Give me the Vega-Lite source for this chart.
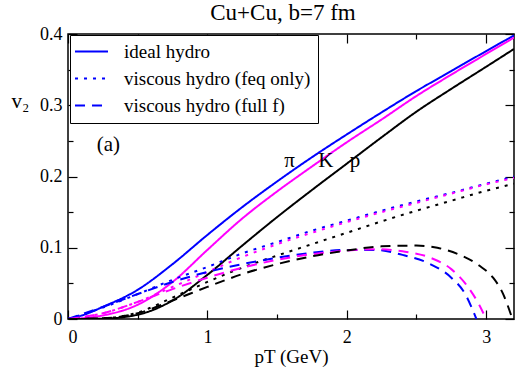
{
  "$schema": "https://vega.github.io/schema/vega-lite/v6.json",
  "width": 446,
  "height": 285,
  "autosize": {"type": "none"},
  "padding": {"left": 68, "top": 34, "right": 14, "bottom": 60},
  "background": "white",
  "title": {"text": "Cu+Cu, b=7 fm", "font": "Liberation Serif", "fontSize": 23, "fontWeight": "normal", "color": "black", "baseline": "top", "offset": 0, "dx": -8},
  "config": {
    "view": {"stroke": "black", "strokeWidth": 1.5},
    "axis": {"labelFont": "Liberation Serif", "labelFontSize": 18, "labelColor": "black", "titleFont": "Liberation Serif", "titleFontSize": 19, "titleFontWeight": "normal", "titleColor": "black", "tickColor": "black", "tickWidth": 1.2, "domain": false, "grid": false}
  },
  "data": {"values": [
    {"particle": "π", "model": "ideal hydro", "pT": 0, "v2": 0},
    {"particle": "π", "model": "ideal hydro", "pT": 0.1, "v2": 0.005},
    {"particle": "π", "model": "ideal hydro", "pT": 0.25, "v2": 0.017},
    {"particle": "π", "model": "ideal hydro", "pT": 0.5, "v2": 0.041},
    {"particle": "π", "model": "ideal hydro", "pT": 0.75, "v2": 0.077},
    {"particle": "π", "model": "ideal hydro", "pT": 1.0, "v2": 0.118},
    {"particle": "π", "model": "ideal hydro", "pT": 1.25, "v2": 0.157},
    {"particle": "π", "model": "ideal hydro", "pT": 1.5, "v2": 0.193},
    {"particle": "π", "model": "ideal hydro", "pT": 1.75, "v2": 0.227},
    {"particle": "π", "model": "ideal hydro", "pT": 2.0, "v2": 0.259},
    {"particle": "π", "model": "ideal hydro", "pT": 2.25, "v2": 0.29},
    {"particle": "π", "model": "ideal hydro", "pT": 2.5, "v2": 0.32},
    {"particle": "π", "model": "ideal hydro", "pT": 2.75, "v2": 0.348},
    {"particle": "π", "model": "ideal hydro", "pT": 3.0, "v2": 0.376},
    {"particle": "π", "model": "ideal hydro", "pT": 3.2, "v2": 0.398},
    {"particle": "K", "model": "ideal hydro", "pT": 0, "v2": 0},
    {"particle": "K", "model": "ideal hydro", "pT": 0.1, "v2": 0.001},
    {"particle": "K", "model": "ideal hydro", "pT": 0.25, "v2": 0.005},
    {"particle": "K", "model": "ideal hydro", "pT": 0.5, "v2": 0.02},
    {"particle": "K", "model": "ideal hydro", "pT": 0.75, "v2": 0.052},
    {"particle": "K", "model": "ideal hydro", "pT": 1.0, "v2": 0.097},
    {"particle": "K", "model": "ideal hydro", "pT": 1.25, "v2": 0.141},
    {"particle": "K", "model": "ideal hydro", "pT": 1.5, "v2": 0.179},
    {"particle": "K", "model": "ideal hydro", "pT": 1.75, "v2": 0.214},
    {"particle": "K", "model": "ideal hydro", "pT": 2.0, "v2": 0.248},
    {"particle": "K", "model": "ideal hydro", "pT": 2.25, "v2": 0.28},
    {"particle": "K", "model": "ideal hydro", "pT": 2.5, "v2": 0.313},
    {"particle": "K", "model": "ideal hydro", "pT": 2.75, "v2": 0.343},
    {"particle": "K", "model": "ideal hydro", "pT": 3.0, "v2": 0.372},
    {"particle": "K", "model": "ideal hydro", "pT": 3.2, "v2": 0.395},
    {"particle": "p", "model": "ideal hydro", "pT": 0, "v2": 0},
    {"particle": "p", "model": "ideal hydro", "pT": 0.25, "v2": 0.0005},
    {"particle": "p", "model": "ideal hydro", "pT": 0.5, "v2": 0.006},
    {"particle": "p", "model": "ideal hydro", "pT": 0.75, "v2": 0.026},
    {"particle": "p", "model": "ideal hydro", "pT": 1.0, "v2": 0.062},
    {"particle": "p", "model": "ideal hydro", "pT": 1.25, "v2": 0.103},
    {"particle": "p", "model": "ideal hydro", "pT": 1.5, "v2": 0.143},
    {"particle": "p", "model": "ideal hydro", "pT": 1.75, "v2": 0.181},
    {"particle": "p", "model": "ideal hydro", "pT": 2.0, "v2": 0.218},
    {"particle": "p", "model": "ideal hydro", "pT": 2.25, "v2": 0.255},
    {"particle": "p", "model": "ideal hydro", "pT": 2.5, "v2": 0.291},
    {"particle": "p", "model": "ideal hydro", "pT": 2.75, "v2": 0.323},
    {"particle": "p", "model": "ideal hydro", "pT": 3.0, "v2": 0.354},
    {"particle": "p", "model": "ideal hydro", "pT": 3.2, "v2": 0.379},
    {"particle": "π", "model": "viscous hydro (feq only)", "pT": 0, "v2": 0},
    {"particle": "π", "model": "viscous hydro (feq only)", "pT": 0.25, "v2": 0.016},
    {"particle": "π", "model": "viscous hydro (feq only)", "pT": 0.5, "v2": 0.035},
    {"particle": "π", "model": "viscous hydro (feq only)", "pT": 0.75, "v2": 0.055},
    {"particle": "π", "model": "viscous hydro (feq only)", "pT": 1.0, "v2": 0.073},
    {"particle": "π", "model": "viscous hydro (feq only)", "pT": 1.25, "v2": 0.092},
    {"particle": "π", "model": "viscous hydro (feq only)", "pT": 1.5, "v2": 0.108},
    {"particle": "π", "model": "viscous hydro (feq only)", "pT": 1.75, "v2": 0.124},
    {"particle": "π", "model": "viscous hydro (feq only)", "pT": 2.0, "v2": 0.138},
    {"particle": "π", "model": "viscous hydro (feq only)", "pT": 2.25, "v2": 0.152},
    {"particle": "π", "model": "viscous hydro (feq only)", "pT": 2.5, "v2": 0.165},
    {"particle": "π", "model": "viscous hydro (feq only)", "pT": 2.75, "v2": 0.177},
    {"particle": "π", "model": "viscous hydro (feq only)", "pT": 3.0, "v2": 0.19},
    {"particle": "π", "model": "viscous hydro (feq only)", "pT": 3.2, "v2": 0.2},
    {"particle": "K", "model": "viscous hydro (feq only)", "pT": 0, "v2": 0},
    {"particle": "K", "model": "viscous hydro (feq only)", "pT": 0.25, "v2": 0.008},
    {"particle": "K", "model": "viscous hydro (feq only)", "pT": 0.5, "v2": 0.024},
    {"particle": "K", "model": "viscous hydro (feq only)", "pT": 0.75, "v2": 0.045},
    {"particle": "K", "model": "viscous hydro (feq only)", "pT": 1.0, "v2": 0.066},
    {"particle": "K", "model": "viscous hydro (feq only)", "pT": 1.25, "v2": 0.087},
    {"particle": "K", "model": "viscous hydro (feq only)", "pT": 1.5, "v2": 0.105},
    {"particle": "K", "model": "viscous hydro (feq only)", "pT": 1.75, "v2": 0.121},
    {"particle": "K", "model": "viscous hydro (feq only)", "pT": 2.0, "v2": 0.136},
    {"particle": "K", "model": "viscous hydro (feq only)", "pT": 2.25, "v2": 0.15},
    {"particle": "K", "model": "viscous hydro (feq only)", "pT": 2.5, "v2": 0.163},
    {"particle": "K", "model": "viscous hydro (feq only)", "pT": 2.75, "v2": 0.176},
    {"particle": "K", "model": "viscous hydro (feq only)", "pT": 3.0, "v2": 0.189},
    {"particle": "K", "model": "viscous hydro (feq only)", "pT": 3.2, "v2": 0.198},
    {"particle": "p", "model": "viscous hydro (feq only)", "pT": 0, "v2": 0},
    {"particle": "p", "model": "viscous hydro (feq only)", "pT": 0.25, "v2": 0.001},
    {"particle": "p", "model": "viscous hydro (feq only)", "pT": 0.5, "v2": 0.009},
    {"particle": "p", "model": "viscous hydro (feq only)", "pT": 0.75, "v2": 0.03},
    {"particle": "p", "model": "viscous hydro (feq only)", "pT": 1.0, "v2": 0.052},
    {"particle": "p", "model": "viscous hydro (feq only)", "pT": 1.25, "v2": 0.072},
    {"particle": "p", "model": "viscous hydro (feq only)", "pT": 1.5, "v2": 0.089},
    {"particle": "p", "model": "viscous hydro (feq only)", "pT": 1.75, "v2": 0.105},
    {"particle": "p", "model": "viscous hydro (feq only)", "pT": 2.0, "v2": 0.121},
    {"particle": "p", "model": "viscous hydro (feq only)", "pT": 2.25, "v2": 0.137},
    {"particle": "p", "model": "viscous hydro (feq only)", "pT": 2.5, "v2": 0.152},
    {"particle": "p", "model": "viscous hydro (feq only)", "pT": 2.75, "v2": 0.166},
    {"particle": "p", "model": "viscous hydro (feq only)", "pT": 3.0, "v2": 0.18},
    {"particle": "p", "model": "viscous hydro (feq only)", "pT": 3.2, "v2": 0.19},
    {"particle": "π", "model": "viscous hydro (full f)", "pT": 0, "v2": 0},
    {"particle": "π", "model": "viscous hydro (full f)", "pT": 0.25, "v2": 0.017},
    {"particle": "π", "model": "viscous hydro (full f)", "pT": 0.5, "v2": 0.035},
    {"particle": "π", "model": "viscous hydro (full f)", "pT": 0.75, "v2": 0.052},
    {"particle": "π", "model": "viscous hydro (full f)", "pT": 1.0, "v2": 0.066},
    {"particle": "π", "model": "viscous hydro (full f)", "pT": 1.25, "v2": 0.077},
    {"particle": "π", "model": "viscous hydro (full f)", "pT": 1.5, "v2": 0.086},
    {"particle": "π", "model": "viscous hydro (full f)", "pT": 1.75, "v2": 0.093},
    {"particle": "π", "model": "viscous hydro (full f)", "pT": 2.0, "v2": 0.097},
    {"particle": "π", "model": "viscous hydro (full f)", "pT": 2.2, "v2": 0.097},
    {"particle": "π", "model": "viscous hydro (full f)", "pT": 2.4, "v2": 0.09},
    {"particle": "π", "model": "viscous hydro (full f)", "pT": 2.6, "v2": 0.077},
    {"particle": "π", "model": "viscous hydro (full f)", "pT": 2.75, "v2": 0.058},
    {"particle": "π", "model": "viscous hydro (full f)", "pT": 2.85, "v2": 0.035},
    {"particle": "π", "model": "viscous hydro (full f)", "pT": 2.93, "v2": 0},
    {"particle": "K", "model": "viscous hydro (full f)", "pT": 0, "v2": 0},
    {"particle": "K", "model": "viscous hydro (full f)", "pT": 0.25, "v2": 0.008},
    {"particle": "K", "model": "viscous hydro (full f)", "pT": 0.5, "v2": 0.024},
    {"particle": "K", "model": "viscous hydro (full f)", "pT": 0.75, "v2": 0.042},
    {"particle": "K", "model": "viscous hydro (full f)", "pT": 1.0, "v2": 0.058},
    {"particle": "K", "model": "viscous hydro (full f)", "pT": 1.25, "v2": 0.072},
    {"particle": "K", "model": "viscous hydro (full f)", "pT": 1.5, "v2": 0.083},
    {"particle": "K", "model": "viscous hydro (full f)", "pT": 1.75, "v2": 0.091},
    {"particle": "K", "model": "viscous hydro (full f)", "pT": 2.0, "v2": 0.096},
    {"particle": "K", "model": "viscous hydro (full f)", "pT": 2.2, "v2": 0.098},
    {"particle": "K", "model": "viscous hydro (full f)", "pT": 2.4, "v2": 0.095},
    {"particle": "K", "model": "viscous hydro (full f)", "pT": 2.6, "v2": 0.086},
    {"particle": "K", "model": "viscous hydro (full f)", "pT": 2.75, "v2": 0.07},
    {"particle": "K", "model": "viscous hydro (full f)", "pT": 2.85, "v2": 0.05},
    {"particle": "K", "model": "viscous hydro (full f)", "pT": 2.95, "v2": 0.02},
    {"particle": "K", "model": "viscous hydro (full f)", "pT": 3.0, "v2": 0},
    {"particle": "p", "model": "viscous hydro (full f)", "pT": 0, "v2": 0},
    {"particle": "p", "model": "viscous hydro (full f)", "pT": 0.25, "v2": 0.001},
    {"particle": "p", "model": "viscous hydro (full f)", "pT": 0.5, "v2": 0.008},
    {"particle": "p", "model": "viscous hydro (full f)", "pT": 0.75, "v2": 0.026},
    {"particle": "p", "model": "viscous hydro (full f)", "pT": 1.0, "v2": 0.045},
    {"particle": "p", "model": "viscous hydro (full f)", "pT": 1.25, "v2": 0.063},
    {"particle": "p", "model": "viscous hydro (full f)", "pT": 1.5, "v2": 0.077},
    {"particle": "p", "model": "viscous hydro (full f)", "pT": 1.75, "v2": 0.088},
    {"particle": "p", "model": "viscous hydro (full f)", "pT": 2.0, "v2": 0.096},
    {"particle": "p", "model": "viscous hydro (full f)", "pT": 2.25, "v2": 0.102},
    {"particle": "p", "model": "viscous hydro (full f)", "pT": 2.5, "v2": 0.103},
    {"particle": "p", "model": "viscous hydro (full f)", "pT": 2.65, "v2": 0.1},
    {"particle": "p", "model": "viscous hydro (full f)", "pT": 2.8, "v2": 0.091},
    {"particle": "p", "model": "viscous hydro (full f)", "pT": 2.95, "v2": 0.075},
    {"particle": "p", "model": "viscous hydro (full f)", "pT": 3.05, "v2": 0.058},
    {"particle": "p", "model": "viscous hydro (full f)", "pT": 3.12, "v2": 0.036},
    {"particle": "p", "model": "viscous hydro (full f)", "pT": 3.18, "v2": 0.005}
  ]},
  "resolve": {"axis": {"x": "independent", "y": "independent"}},
  "layer": [
    {
      "mark": {"type": "line", "strokeWidth": 2, "clip": true, "interpolate": "monotone"},
      "encoding": {
        "x": {"field": "pT", "type": "quantitative", "scale": {"domain": [0, 3.2], "nice": false},
          "axis": {"orient": "bottom", "title": "pT (GeV)", "values": [0, 1, 2, 3], "format": "d",
            "tickSize": -9, "labelPadding": 18, "titleY": 37, "titleBaseline": "middle"}},
        "y": {"field": "v2", "type": "quantitative", "scale": {"domain": [0, 0.4], "nice": false},
          "axis": {"orient": "left", "title": "v₂", "titleFontSize": 21, "titleAngle": 0, "titleX": -48, "titleY": 67, "titleAlign": "center", "titleBaseline": "middle",
            "values": [0, 0.1, 0.2, 0.3, 0.4],
            "labelExpr": "datum.value === 0 ? '0' : format(datum.value, '.1f')",
            "tickSize": -9, "labelPadding": 15}},
        "color": {"field": "particle", "type": "nominal", "scale": {"domain": ["π", "K", "p"], "range": ["#0000ff", "#ff00ff", "#000000"]}, "legend": null},
        "strokeDash": {"field": "model", "type": "nominal",
          "scale": {"domain": ["ideal hydro", "viscous hydro (feq only)", "viscous hydro (full f)"], "range": [[1, 0], [3, 6], [10, 7]]},
          "legend": {"orient": "none", "legendX": 2, "legendY": 1, "title": null, "strokeColor": "black", "fillColor": "white", "padding": 7,
            "symbolType": "M-2,0H2", "symbolStrokeColor": "#0000ff", "symbolStrokeWidth": 2, "symbolSize": 272, "symbolOffset": 5,
            "labelFont": "Liberation Serif", "labelFontSize": 19, "labelColor": "black", "labelOffset": 23, "rowPadding": 7, "labelLimit": 300}}
      }
    },
    {
      "mark": {"type": "line", "opacity": 0},
      "encoding": {
        "x": {"field": "pT", "type": "quantitative", "scale": {"domain": [0, 3.2], "nice": false},
          "axis": {"orient": "top", "title": null, "labels": false, "values": [0, 1, 2, 3], "tickSize": -9}},
        "y": {"field": "v2", "type": "quantitative", "scale": {"domain": [0, 0.4], "nice": false},
          "axis": {"orient": "right", "title": null, "labels": false, "values": [0, 0.1, 0.2, 0.3, 0.4], "tickSize": -9}}
      }
    },
    {
      "mark": {"type": "line", "opacity": 0},
      "encoding": {
        "x": {"field": "pT", "type": "quantitative", "scale": {"domain": [0, 3.2], "nice": false},
          "axis": {"orient": "bottom", "title": null, "labels": false, "values": [0.5, 1.5, 2.5], "tickSize": -5}},
        "y": {"field": "v2", "type": "quantitative", "scale": {"domain": [0, 0.4], "nice": false},
          "axis": {"orient": "left", "title": null, "labels": false, "values": [0.05, 0.15, 0.25, 0.35], "tickSize": -5}}
      }
    },
    {
      "mark": {"type": "line", "opacity": 0},
      "encoding": {
        "x": {"field": "pT", "type": "quantitative", "scale": {"domain": [0, 3.2], "nice": false},
          "axis": {"orient": "top", "title": null, "labels": false, "values": [0.5, 1.5, 2.5], "tickSize": -5}},
        "y": {"field": "v2", "type": "quantitative", "scale": {"domain": [0, 0.4], "nice": false},
          "axis": {"orient": "right", "title": null, "labels": false, "values": [0.05, 0.15, 0.25, 0.35], "tickSize": -5}}
      }
    },
    {
      "data": {"values": [
        {"label": "π", "pT": 1.59, "v2": 0.222},
        {"label": "K", "pT": 1.85, "v2": 0.222},
        {"label": "p", "pT": 2.06, "v2": 0.222},
        {"label": "(a)", "pT": 0.29, "v2": 0.244}
      ]},
      "mark": {"type": "text", "font": "Liberation Serif", "fontSize": 21, "color": "black", "align": "center", "baseline": "middle"},
      "encoding": {
        "x": {"field": "pT", "type": "quantitative", "axis": null},
        "y": {"field": "v2", "type": "quantitative", "axis": null},
        "text": {"field": "label"}
      }
    }
  ]
}
